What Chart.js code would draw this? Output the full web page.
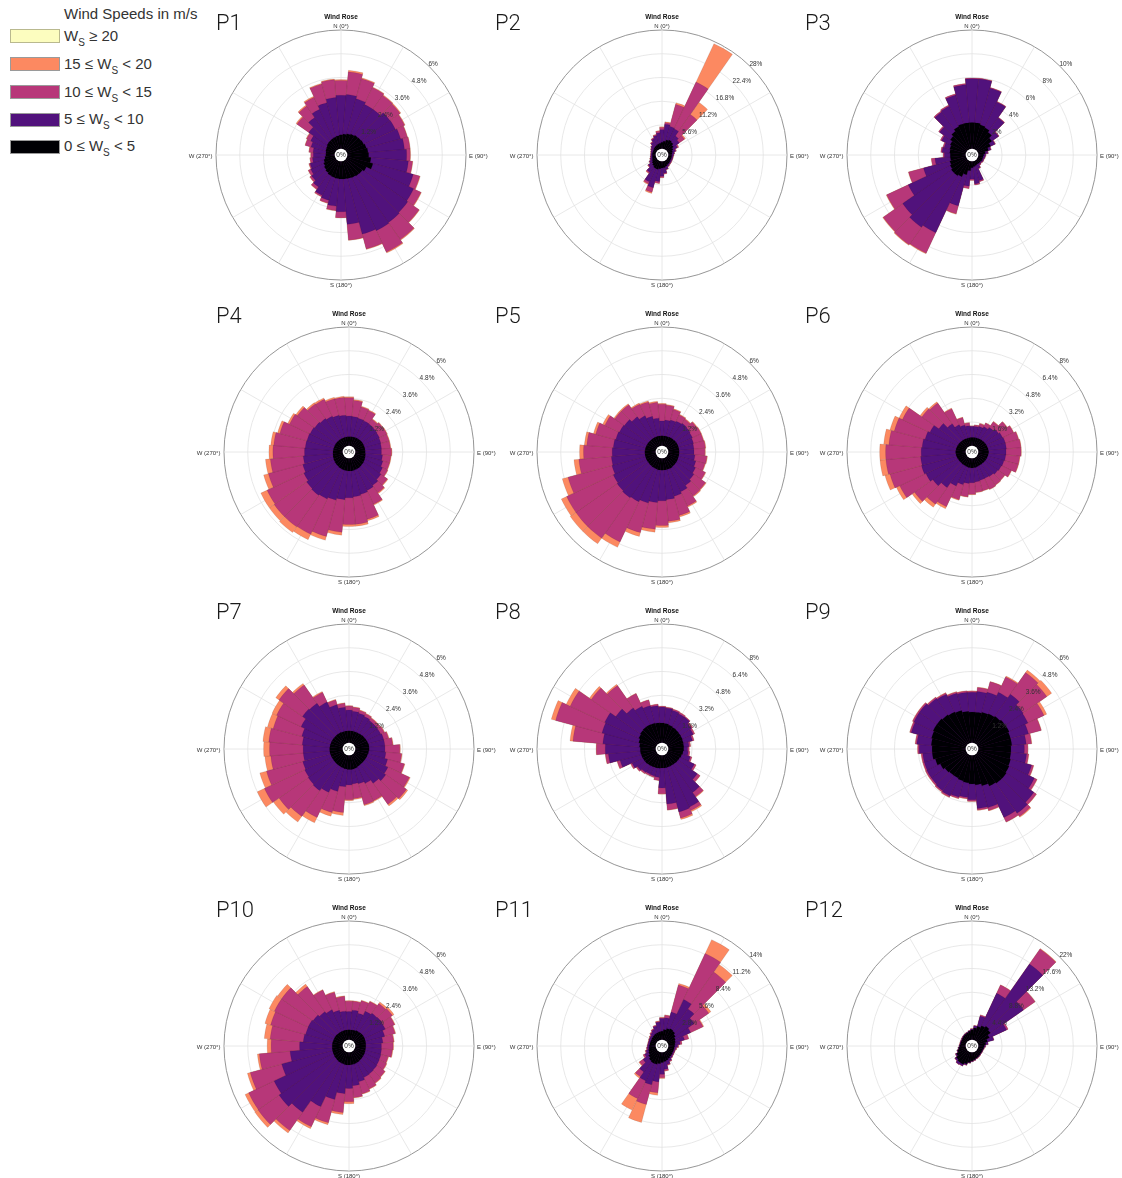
<!DOCTYPE html>
<html>
<head>
<meta charset="utf-8">
<script src="https://cdn.jsdelivr.net/npm/chart.js@4.4.1/dist/chart.umd.min.js"></script>
<style>
  html, body { margin: 0; padding: 0; background: #fff; }
  body { width: 1122px; height: 1178px; position: relative; overflow: hidden; font-family: "Liberation Sans", Arial, sans-serif; }
  .plabel { position: absolute; font-family: Roboto, "Noto Sans", sans-serif; font-weight: 300; font-size: 22px; line-height: 22px; color: #1a1a1a; }
  canvas { position: absolute; }
  .leg-title { position: absolute; left: 64px; top: 6px; font-size: 15px; line-height: 15px; color: #333; white-space: nowrap; }
  .sw { position: absolute; left: 10px; width: 50px; height: 14px; box-sizing: border-box; border: 1px solid #9a9a9a; }
  .lt { position: absolute; left: 64px; font-size: 15px; line-height: 15px; color: #333; white-space: nowrap; }
  .lt sub { font-size: 10px; line-height: 0; vertical-align: -5px; }
</style>
</head>
<body>
<script>
// ---------------- DATA ----------------
const directions = [0,10,20,30,40,50,60,70,80,90,100,110,120,130,140,150,160,170,180,190,200,210,220,230,240,250,260,270,280,290,300,310,320,330,340,350];
const panelNames = ['P1','P2','P3','P4','P5','P6','P7','P8','P9','P10','P11','P12'];
const speedClasses = ['0 ≤ W<sub>S</sub> < 5', '5 ≤ W<sub>S</sub> < 10', '10 ≤ W<sub>S</sub> < 15', '15 ≤ W<sub>S</sub> < 20', 'W<sub>S</sub> ≥ 20'];
const legendTitle = 'Wind Speeds in m/s';
const compassLabels = ['N (0°)', 'E (90°)', 'S (180°)', 'W (270°)'];
const roseTitle = 'Wind Rose';

// cumulative frequency (%) up to each speed class, per direction bin
const p1_lt5  = [0.7,0.75,0.8,0.85,0.9,0.92,0.95,1.0,1.05,1.08,1.2,1.35,1.1,1.0,0.98,0.95,0.92,0.9,0.9,0.88,0.86,0.84,0.78,0.72,0.65,0.58,0.5,0.45,0.45,0.48,0.5,0.55,0.58,0.6,0.63,0.66];
const p1_lt10 = [2.7,2.75,2.62,2.5,2.5,2.7,2.72,2.8,2.9,3.0,3.1,3.46,3.73,3.8,3.85,3.9,3.82,3.2,2.55,2.28,2.05,1.93,1.66,1.5,1.37,1.3,1.13,1.08,1.1,1.25,1.37,1.67,2.0,2.23,2.42,2.6];
const p1_lt15 = [3.45,3.9,3.67,3.45,3.36,3.33,3.23,3.15,3.18,3.18,3.31,3.8,4.14,4.5,4.9,5.1,4.6,4.0,2.85,2.5,2.2,2.0,1.8,1.6,1.5,1.35,1.25,1.2,1.3,1.55,1.6,2.4,2.7,2.9,3.4,3.5];
const p1_lt20 = [3.5,3.98,3.72,3.48,3.4,3.38,3.26,3.17,3.2,3.2,3.33,3.83,4.17,4.53,4.94,5.15,4.63,4.02,2.87,2.52,2.22,2.02,1.82,1.62,1.52,1.37,1.27,1.22,1.32,1.57,1.63,2.46,2.76,2.96,3.44,3.54];

const p2_lt5  = [1.5,1.8,2.2,2.4,2.2,1.8,1.4,1.1,0.9,0.8,0.8,0.8,0.8,0.9,1.0,1.1,1.3,1.5,1.6,1.8,2.0,2.0,1.7,1.4,1.1,0.9,0.8,0.8,0.8,0.8,0.8,0.9,1.0,1.1,1.2,1.3];
const p2_lt10 = [4.5,5.8,5.5,5.3,4.0,3.5,2.5,1.8,1.4,1.2,1.1,1.1,1.1,1.2,1.3,1.5,2.0,2.8,3.5,4.8,6.5,5.5,3.5,2.5,1.8,1.4,1.2,1.1,1.1,1.2,1.4,1.7,2.2,2.8,3.3,3.8];
const p2_lt15 = [5.0,6.2,10.9,17.5,10.2,5.0,2.8,2.0,1.5,1.3,1.2,1.2,1.2,1.3,1.4,1.6,2.1,3.0,3.8,5.2,7.6,6.0,3.8,2.6,1.9,1.5,1.3,1.2,1.2,1.3,1.5,1.8,2.4,3.0,3.5,4.2];
const p2_lt20 = [5.2,6.4,11.3,27.5,13.7,5.3,2.9,2.05,1.55,1.35,1.25,1.25,1.25,1.35,1.45,1.65,2.15,3.05,3.9,5.3,7.9,6.2,3.9,2.7,1.95,1.55,1.35,1.25,1.25,1.35,1.55,1.85,2.45,3.05,3.6,4.3];

const p3_lt5  = [2.2,2.2,2.1,2.0,1.8,1.5,1.2,0.9,0.6,0.45,0.4,0.4,0.4,0.35,0.35,0.35,0.4,0.45,0.55,0.8,1.2,1.5,1.6,1.6,1.5,1.4,1.3,1.3,1.35,1.4,1.5,1.7,1.9,2.1,2.2,2.2];
const p3_lt10 = [5.9,5.9,5.3,4.4,3.3,2.2,1.6,1.1,0.8,0.6,0.55,0.5,0.5,0.45,0.5,0.7,1.7,1.9,1.5,2.1,3.9,6.7,6.9,6.6,5.4,3.7,2.6,1.8,2.0,1.9,2.3,2.8,3.9,4.0,4.7,5.4];
const p3_lt15 = [5.95,5.95,5.35,4.45,3.35,2.25,1.65,1.15,0.85,0.65,0.6,0.55,0.55,0.5,0.55,0.75,1.8,2.0,1.6,2.3,4.6,8.6,8.7,8.6,7.4,5.0,2.9,1.9,2.1,2.0,2.4,2.9,4.0,4.1,4.8,5.5];
const p3_lt20 = [5.96,5.96,5.36,4.46,3.36,2.26,1.66,1.16,0.86,0.66,0.61,0.56,0.56,0.51,0.56,0.76,1.81,2.01,1.61,2.32,4.64,8.66,8.76,8.66,7.45,5.03,2.92,1.91,2.11,2.01,2.41,2.91,4.01,4.11,4.81,5.51];

const p4_lt5  = [0.45,0.46,0.47,0.48,0.49,0.5,0.5,0.5,0.5,0.5,0.52,0.54,0.56,0.58,0.6,0.62,0.63,0.64,0.64,0.63,0.62,0.6,0.58,0.56,0.54,0.52,0.5,0.49,0.48,0.47,0.47,0.46,0.46,0.45,0.45,0.45];
const p4_lt10 = [1.5,1.48,1.45,1.43,1.42,1.4,1.38,1.35,1.33,1.32,1.38,1.45,1.55,1.65,1.75,1.82,1.9,1.95,2.0,2.1,2.2,2.3,2.35,2.3,2.2,2.1,2.0,1.93,1.9,1.88,1.85,1.8,1.75,1.68,1.6,1.55];
const p4_lt15 = [2.43,2.3,2.04,2.0,1.7,1.78,1.8,1.78,1.78,1.83,1.8,1.8,1.83,2.05,2.2,2.6,3.2,3.35,3.35,3.75,4.1,4.27,4.3,4.3,4.25,3.9,3.67,3.53,3.5,3.3,3.0,2.87,2.65,2.62,2.47,2.45];
const p4_lt20 = [2.48,2.35,2.08,2.04,1.74,1.81,1.83,1.81,1.81,1.86,1.83,1.83,1.86,2.09,2.25,2.65,3.28,3.45,3.45,3.9,4.3,4.57,4.65,4.6,4.6,4.15,3.92,3.73,3.65,3.42,3.1,2.97,2.73,2.7,2.55,2.51];

const p5_lt5  = [0.5,0.5,0.5,0.52,0.53,0.54,0.55,0.55,0.55,0.55,0.55,0.55,0.56,0.57,0.58,0.6,0.6,0.6,0.6,0.6,0.58,0.57,0.56,0.55,0.55,0.55,0.55,0.55,0.54,0.53,0.52,0.51,0.5,0.5,0.5,0.5];
const p5_lt10 = [1.25,1.3,1.35,1.4,1.45,1.42,1.38,1.33,1.3,1.3,1.35,1.45,1.55,1.65,1.75,1.9,2.0,2.1,2.15,2.25,2.35,2.45,2.5,2.45,2.4,2.3,2.25,2.2,2.15,2.1,2.05,2.0,1.85,1.7,1.55,1.4];
const p5_lt15 = [2.1,2.05,1.9,1.75,1.7,1.83,1.86,1.85,1.88,1.85,1.96,1.93,2.1,2.37,2.4,2.7,3.0,3.2,3.4,3.6,3.9,4.7,5.0,5.0,5.0,4.6,3.9,3.65,3.5,3.15,2.87,2.6,2.6,2.35,2.3,2.2];
const p5_lt20 = [2.14,2.09,1.94,1.79,1.74,1.87,1.89,1.88,1.91,1.88,1.99,1.96,2.13,2.41,2.45,2.76,3.08,3.28,3.5,3.75,4.1,5.0,5.35,5.35,5.3,4.9,4.15,3.85,3.62,3.27,2.99,2.66,2.66,2.41,2.36,2.26];

const p6_lt5  = [0.55,0.56,0.57,0.58,0.6,0.62,0.64,0.66,0.68,0.7,0.68,0.66,0.64,0.62,0.6,0.6,0.62,0.64,0.65,0.64,0.62,0.6,0.6,0.6,0.62,0.64,0.66,0.68,0.66,0.64,0.62,0.6,0.58,0.56,0.55,0.55];
const p6_lt10 = [1.3,1.3,1.35,1.45,1.6,1.75,1.85,1.9,1.9,1.87,1.85,1.8,1.75,1.7,1.6,1.55,1.55,1.6,1.65,1.7,1.85,2.1,2.5,2.8,3.0,3.1,3.05,3.0,2.95,2.85,2.7,2.3,1.9,1.6,1.45,1.35];
const p6_lt15 = [1.33,1.4,1.55,1.73,2.07,2.46,2.66,2.82,2.88,2.88,2.8,2.8,2.5,2.27,2.3,2.35,2.28,2.3,2.43,2.6,2.9,3.65,3.87,4.3,4.95,5.3,5.4,5.4,5.2,5.0,4.75,3.7,3.6,2.8,1.98,1.55];
const p6_lt20 = [1.35,1.42,1.58,1.76,2.1,2.49,2.69,2.85,2.91,2.91,2.83,2.83,2.53,2.3,2.33,2.38,2.31,2.33,2.46,2.63,2.95,3.8,4.12,4.5,5.2,5.65,5.8,5.8,5.55,5.3,5.0,3.85,3.7,2.85,2.01,1.57];

const p7_lt5  = [0.6,0.6,0.6,0.6,0.62,0.64,0.66,0.68,0.7,0.7,0.68,0.66,0.65,0.64,0.64,0.66,0.7,0.72,0.72,0.7,0.68,0.66,0.65,0.64,0.64,0.65,0.66,0.66,0.65,0.64,0.63,0.62,0.62,0.61,0.6,0.6];
const p7_lt10 = [1.65,1.6,1.55,1.5,1.45,1.45,1.45,1.5,1.5,1.5,1.55,1.7,1.85,1.95,1.8,1.6,1.5,1.45,1.5,1.6,1.9,2.1,2.25,2.2,2.15,2.1,2.0,2.0,2.05,2.15,2.35,2.55,2.5,2.3,2.0,1.8];
const p7_lt15 = [1.85,1.8,1.7,1.65,1.6,1.6,1.65,1.75,1.9,2.25,2.35,2.58,3.05,3.23,3.1,2.57,2.6,2.2,2.25,2.9,3.0,3.5,3.84,4.0,4.4,4.0,3.65,3.7,3.75,3.65,3.72,4.0,3.63,2.84,2.25,2.0];
const p7_lt20 = [1.88,1.83,1.73,1.68,1.63,1.63,1.68,1.78,1.93,2.28,2.38,2.61,3.1,3.31,3.2,2.62,2.65,2.25,2.3,3.05,3.2,3.8,4.19,4.35,4.8,4.35,3.95,4.0,4.05,3.95,3.97,4.2,3.73,2.89,2.28,2.03];

const p8_lt5  = [1.33,1.3,1.25,1.2,1.15,1.12,1.1,1.07,1.05,1.04,1.0,0.95,0.9,0.88,0.86,0.85,0.85,0.86,0.86,0.88,0.9,0.92,0.95,0.98,1.0,1.02,1.04,1.04,1.1,1.2,1.3,1.37,1.4,1.4,1.38,1.35];
const p8_lt10 = [2.4,2.35,2.27,2.2,2.2,2.0,1.9,1.7,1.4,1.3,1.35,1.55,1.98,2.48,3.15,3.9,3.97,3.3,2.2,1.5,1.45,1.45,1.5,1.6,1.8,2.5,3.2,3.4,3.58,3.76,3.83,3.38,2.95,2.75,2.6,2.5];
const p8_lt15 = [2.45,2.4,2.35,2.3,2.25,2.1,2.0,1.8,1.5,1.4,1.45,1.65,2.1,2.7,3.5,4.15,4.4,3.7,2.6,1.7,1.55,1.55,1.6,1.7,1.9,2.7,3.4,4.0,5.6,7.0,6.4,5.4,4.8,3.7,3.0,2.6];
const p8_lt20 = [2.47,2.42,2.37,2.32,2.27,2.12,2.02,1.82,1.52,1.42,1.47,1.67,2.12,2.72,3.55,4.25,4.5,3.72,2.62,1.72,1.57,1.57,1.62,1.72,1.92,2.72,3.42,4.02,5.8,7.3,6.7,5.55,4.9,3.72,3.02,2.62];

const p9_lt5  = [1.55,1.55,1.6,1.65,1.7,1.75,1.75,1.7,1.7,1.65,1.65,1.7,1.75,1.8,1.8,1.75,1.6,1.5,1.45,1.4,1.35,1.3,1.3,1.35,1.45,1.6,1.7,1.7,1.75,1.8,1.85,1.85,1.8,1.75,1.7,1.6];
const p9_lt10 = [2.55,2.6,2.65,2.84,3.06,2.84,2.8,2.64,2.43,2.33,2.45,2.8,3.16,3.5,3.65,3.5,2.75,2.7,2.25,2.13,2.2,2.3,2.25,2.2,2.2,2.18,2.18,2.35,2.48,2.86,2.92,2.92,2.8,2.74,2.6,2.55];
const p9_lt15 = [2.6,2.8,3.2,3.7,4.4,4.3,3.7,3.3,2.7,2.5,2.55,2.9,3.3,3.65,3.85,3.75,2.9,2.78,2.32,2.2,2.27,2.37,2.32,2.27,2.27,2.25,2.25,2.42,2.55,2.93,2.99,2.99,2.87,2.81,2.67,2.62];
const p9_lt20 = [2.62,2.82,3.22,3.75,4.55,4.6,3.85,3.32,2.72,2.52,2.57,2.92,3.32,3.67,3.9,3.77,2.92,2.8,2.34,2.22,2.29,2.39,2.34,2.29,2.29,2.27,2.27,2.44,2.57,2.95,3.01,3.01,2.89,2.83,2.69,2.64];

const p10_lt5  = [0.5,0.5,0.52,0.54,0.55,0.56,0.56,0.55,0.54,0.53,0.53,0.54,0.55,0.56,0.58,0.6,0.62,0.63,0.64,0.64,0.63,0.62,0.6,0.58,0.56,0.55,0.54,0.53,0.53,0.52,0.52,0.52,0.51,0.5,0.5,0.5];
const p10_lt10 = [1.42,1.5,1.4,1.62,1.7,1.72,1.7,1.55,1.4,1.32,1.33,1.35,1.37,1.4,1.42,1.44,1.55,1.7,1.83,2.1,2.48,3.06,3.77,4.0,3.86,3.2,2.67,2.18,2.0,1.95,1.96,1.9,1.8,1.7,1.55,1.45];
const p10_lt15 = [1.95,1.95,2.05,2.16,2.3,2.36,2.23,2.1,1.95,1.91,1.88,1.73,1.77,1.9,1.96,2.07,2.18,2.3,2.5,3.06,3.7,4.19,4.9,5.3,5.28,4.85,4.23,3.62,3.68,3.78,3.84,3.84,3.35,2.8,2.5,2.2];
const p10_lt20 = [1.98,1.98,2.08,2.19,2.4,2.46,2.26,2.13,1.98,1.94,1.91,1.76,1.8,1.93,1.99,2.1,2.21,2.33,2.6,3.16,3.8,4.29,5.05,5.5,5.48,5.0,4.33,3.82,3.98,4.08,4.14,4.09,3.5,2.83,2.53,2.23];

const p11_lt5  = [1.0,1.2,1.4,1.5,1.4,1.2,1.0,0.9,0.8,0.75,0.7,0.7,0.7,0.75,0.8,0.9,1.0,1.1,1.2,1.35,1.5,1.5,1.4,1.2,1.0,0.9,0.8,0.75,0.7,0.7,0.7,0.75,0.8,0.85,0.9,0.95];
const p11_lt10 = [2.5,2.6,3.4,5.3,4.6,3.9,3.0,2.0,1.4,1.1,0.9,0.85,0.85,0.9,1.0,1.2,1.5,2.0,2.6,3.5,4.0,3.8,3.0,2.0,1.5,1.2,1.0,0.95,0.9,0.9,0.95,1.0,1.2,1.4,1.7,2.1];
const p11_lt15 = [2.6,2.9,6.7,11.3,9.9,6.0,4.6,2.5,1.6,1.2,1.0,0.9,0.9,0.95,1.05,1.3,1.6,2.2,3.0,4.8,6.4,6.1,3.7,2.5,1.7,1.3,1.1,1.0,0.95,0.95,1.0,1.1,1.3,1.5,1.8,2.2];
const p11_lt20 = [2.65,2.95,6.9,13.1,11.0,6.3,4.7,2.55,1.63,1.23,1.03,0.93,0.93,0.98,1.08,1.33,1.63,2.25,3.1,5.1,8.6,7.6,3.9,2.6,1.73,1.33,1.13,1.03,0.98,0.98,1.03,1.13,1.33,1.53,1.83,2.25];

const p12_lt5  = [1.8,2.2,2.6,3.0,3.3,3.0,2.4,1.8,1.4,1.1,1.0,0.9,0.9,0.9,1.0,1.1,1.2,1.4,1.6,1.9,2.3,2.6,2.6,2.4,2.0,1.6,1.3,1.1,1.0,1.0,1.0,1.1,1.2,1.3,1.4,1.6];
const p12_lt10 = [2.0,2.6,4.6,9.6,17.4,10.5,5.9,3.0,1.8,1.3,1.1,1.0,1.0,1.0,1.1,1.2,1.3,1.5,1.7,2.0,2.5,2.9,3.0,2.7,2.2,1.7,1.4,1.2,1.1,1.1,1.1,1.2,1.3,1.4,1.5,1.7];
const p12_lt15 = [2.05,2.65,4.8,11.3,20.8,13.1,6.2,3.05,1.85,1.35,1.15,1.05,1.05,1.05,1.15,1.25,1.35,1.55,1.75,2.05,2.55,2.95,3.05,2.75,2.25,1.75,1.45,1.25,1.15,1.15,1.15,1.25,1.35,1.45,1.55,1.75];
const p12_lt20 = [2.07,2.67,4.82,11.35,20.9,13.15,6.22,3.07,1.87,1.37,1.17,1.07,1.07,1.07,1.17,1.27,1.37,1.57,1.77,2.07,2.57,2.97,3.07,2.77,2.27,1.77,1.47,1.27,1.17,1.17,1.17,1.27,1.37,1.47,1.57,1.77];

// radial tick values and labels per panel
const ticks_a = [1.2,2.4,3.6,4.8,6];     const tickLabels_a = ['1.2%','2.4%','3.6%','4.8%','6%'];
const ticks_p2 = [5.6,11.2,16.8,22.4,28]; const tickLabels_p2 = ['5.6%','11.2%','16.8%','22.4%','28%'];
const ticks_p3 = [2,4,6,8,10];            const tickLabels_p3 = ['2%','4%','6%','8%','10%'];
const ticks_b = [1.6,3.2,4.8,6.4,8];      const tickLabels_b = ['1.6%','3.2%','4.8%','6.4%','8%'];
const ticks_p11 = [2.8,5.6,8.4,11.2,14];  const tickLabels_p11 = ['2.8%','5.6%','8.4%','11.2%','14%'];
const ticks_p12 = [4.4,8.8,13.2,17.6,22]; const tickLabels_p12 = ['4.4%','8.8%','13.2%','17.6%','22%'];

// ---------------- STYLE / LAYOUT ----------------
const speedColors = ['#000004', '#51127c', '#b73779', '#fc8961', '#fcfdbf'];
const HOLE_FRAC = 0.053;
const FONT = '"Liberation Sans", Arial, sans-serif';

const panels = [
  { series: [p1_lt5, p1_lt10, p1_lt15, p1_lt20], ticks: ticks_a, tl: tickLabels_a, cx: 341, cy: 155, lx: 216, ly: 12.3 },
  { series: [p2_lt5, p2_lt10, p2_lt15, p2_lt20], ticks: ticks_p2, tl: tickLabels_p2, cx: 662, cy: 155, lx: 495, ly: 12.3 },
  { series: [p3_lt5, p3_lt10, p3_lt15, p3_lt20], ticks: ticks_p3, tl: tickLabels_p3, cx: 972, cy: 155, lx: 805, ly: 12.3 },
  { series: [p4_lt5, p4_lt10, p4_lt15, p4_lt20], ticks: ticks_a, tl: tickLabels_a, cx: 349, cy: 452, lx: 216, ly: 305.1 },
  { series: [p5_lt5, p5_lt10, p5_lt15, p5_lt20], ticks: ticks_a, tl: tickLabels_a, cx: 662, cy: 452, lx: 495, ly: 305.1 },
  { series: [p6_lt5, p6_lt10, p6_lt15, p6_lt20], ticks: ticks_b, tl: tickLabels_b, cx: 972, cy: 452, lx: 805, ly: 305.1 },
  { series: [p7_lt5, p7_lt10, p7_lt15, p7_lt20], ticks: ticks_a, tl: tickLabels_a, cx: 349, cy: 749, lx: 216, ly: 601.3 },
  { series: [p8_lt5, p8_lt10, p8_lt15, p8_lt20], ticks: ticks_b, tl: tickLabels_b, cx: 662, cy: 749, lx: 495, ly: 601.3 },
  { series: [p9_lt5, p9_lt10, p9_lt15, p9_lt20], ticks: ticks_a, tl: tickLabels_a, cx: 972, cy: 749, lx: 805, ly: 601.3 },
  { series: [p10_lt5, p10_lt10, p10_lt15, p10_lt20], ticks: ticks_a, tl: tickLabels_a, cx: 349, cy: 1046, lx: 216, ly: 899.3 },
  { series: [p11_lt5, p11_lt10, p11_lt15, p11_lt20], ticks: ticks_p11, tl: tickLabels_p11, cx: 662, cy: 1046, lx: 495, ly: 899.3 },
  { series: [p12_lt5, p12_lt10, p12_lt15, p12_lt20], ticks: ticks_p12, tl: tickLabels_p12, cx: 972, cy: 1046, lx: 805, ly: 899.3 }
];

// ---------------- LEGEND ----------------
(function buildLegend() {
  const t = document.createElement('div');
  t.className = 'leg-title'; t.textContent = legendTitle;
  document.body.appendChild(t);
  const swTops = [29, 57, 85, 113, 140];
  const txtTops = [27.8, 55.6, 83.8, 111.3, 138.1];
  const order = [4, 3, 2, 1, 0];
  order.forEach((ci, row) => {
    const sw = document.createElement('div');
    sw.className = 'sw';
    sw.style.top = swTops[row] + 'px';
    sw.style.background = speedColors[ci];
    if (ci === 4) sw.style.borderColor = '#b9b98f';
    document.body.appendChild(sw);
    const lt = document.createElement('div');
    lt.className = 'lt';
    lt.style.top = txtTops[row] + 'px';
    lt.innerHTML = speedClasses[ci];
    document.body.appendChild(lt);
  });
})();

// ---------------- ROSES ----------------
function decorPlugin(tickVals, tickLabels) {
  return {
    id: 'roseDecor',
    beforeDatasetsDraw(chart) {
      const s = chart.scales.r, ctx = chart.ctx;
      ctx.save();
      ctx.strokeStyle = '#e2e2e2';
      ctx.lineWidth = 0.8;
      for (let a = 0; a < 360; a += 30) {
        const rad = a * Math.PI / 180;
        ctx.beginPath();
        ctx.moveTo(s.xCenter, s.yCenter);
        ctx.lineTo(s.xCenter + s.drawingArea * Math.sin(rad), s.yCenter - s.drawingArea * Math.cos(rad));
        ctx.stroke();
      }
      ctx.restore();
    },
    afterDatasetsDraw(chart) {
      const s = chart.scales.r, ctx = chart.ctx;
      const xc = s.xCenter, yc = s.yCenter, R = s.drawingArea;
      const r0 = s.getDistanceFromCenterForValue(0);
      ctx.save();
      ctx.fillStyle = '#ffffff';
      ctx.beginPath(); ctx.arc(xc, yc, r0, 0, Math.PI * 2); ctx.fill();
      ctx.fillStyle = '#333';
      ctx.font = '6.5px ' + FONT;
      ctx.textAlign = 'center'; ctx.textBaseline = 'middle';
      ctx.fillText('0%', xc, yc + 0.5);
      ctx.textAlign = 'left';
      tickVals.forEach((v, i) => {
        const r = s.getDistanceFromCenterForValue(v);
        ctx.fillText(tickLabels[i], xc + r * Math.SQRT1_2 - 1, yc - r * Math.SQRT1_2 - 2);
      });
      ctx.font = '6px ' + FONT;
      ctx.fillStyle = '#333';
      ctx.textAlign = 'center';
      ctx.fillText(compassLabels[0], xc, yc - R - 3.5);
      ctx.fillText(compassLabels[2], xc, yc + R + 5.5);
      ctx.textAlign = 'left';
      ctx.fillText(compassLabels[1], xc + R + 3, yc + 1);
      ctx.textAlign = 'right';
      ctx.fillText(compassLabels[3], xc - R - 3.5, yc + 1);
      ctx.font = 'bold 6.5px ' + FONT;
      ctx.fillStyle = '#111';
      ctx.textAlign = 'center';
      ctx.fillText(roseTitle, xc, yc - R - 13);
      ctx.restore();
    }
  };
}

function makeRose(p, name) {
  const W = 360, H = 300, D = 250;
  const cv = document.createElement('canvas');
  cv.width = W; cv.height = H;
  cv.style.width = W + 'px'; cv.style.height = H + 'px';
  cv.style.left = (p.cx - W / 2) + 'px';
  cv.style.top = (p.cy - H / 2) + 'px';
  document.body.appendChild(cv);

  const lab = document.createElement('div');
  lab.className = 'plabel';
  lab.style.left = p.lx + 'px';
  lab.style.top = p.ly + 'px';
  lab.textContent = name;
  document.body.appendChild(lab);

  const maxV = p.ticks[p.ticks.length - 1];
  const nT = p.ticks.length;
  new Chart(cv, {
    type: 'polarArea',
    data: {
      labels: directions.map(d => d + '°'),
      datasets: p.series.map((s, i) => ({
        label: speedClasses[i],
        data: s,
        backgroundColor: speedColors[i],
        borderColor: 'rgba(0,0,0,0.18)',
        borderWidth: 0.5
      }))
    },
    options: {
      responsive: false,
      animation: false,
      events: [],
      devicePixelRatio: 1,
      layout: { padding: { left: (W - D) / 2, right: (W - D) / 2, top: (H - D) / 2, bottom: (H - D) / 2 } },
      plugins: { legend: { display: false }, tooltip: { enabled: false } },
      scales: {
        r: {
          type: 'radialLinear',
          min: -maxV * HOLE_FRAC,
          max: maxV,
          startAngle: -5,
          ticks: { display: false },
          pointLabels: { display: false },
          angleLines: { display: false },
          grid: {
            circular: true,
            color: c => (c.index === nT - 1 ? '#8a8a8a' : '#e2e2e2'),
            lineWidth: c => (c.index === nT - 1 ? 0.9 : 0.8)
          },
          afterBuildTicks: sc => { sc.ticks = p.ticks.map(v => ({ value: v })); }
        }
      }
    },
    plugins: [decorPlugin(p.ticks, p.tl)]
  });
}

panels.forEach((p, i) => makeRose(p, panelNames[i]));
</script>
</body>
</html>
